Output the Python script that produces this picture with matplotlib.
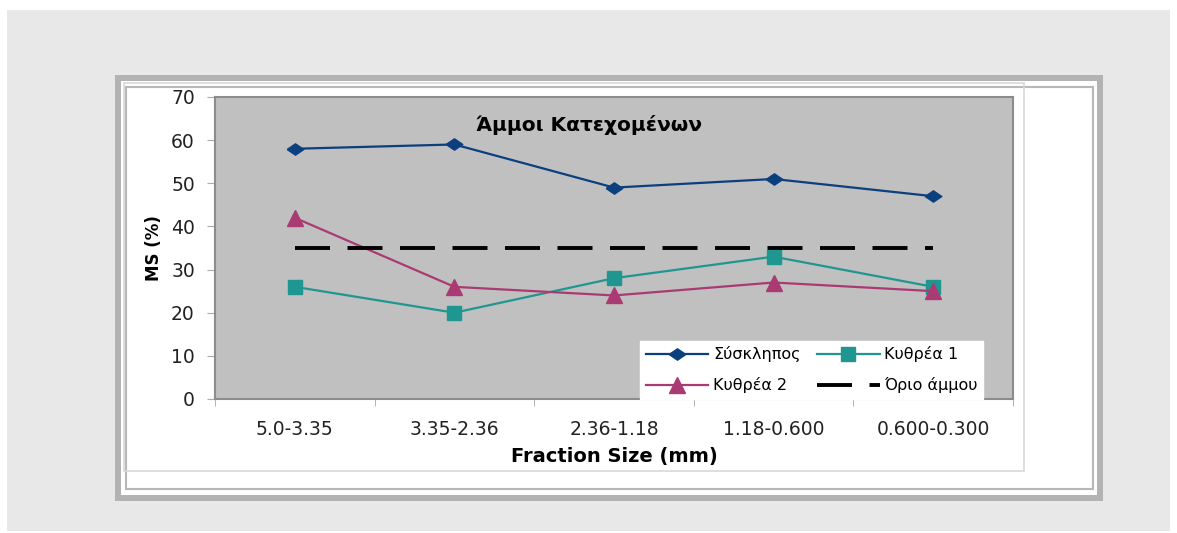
import matplotlib.pyplot as plt
from matplotlib.patches import Rectangle
from matplotlib.lines import Line2D

plt.rcParams['font.family'] = ['DejaVu Sans']

# data
fractions = ['5.0-3.35', '3.35-2.36', '2.36-1.18', '1.18-0.600', '0.600-0.300']
syskliipos = [58, 59, 49, 51, 47]
kythrea1 = [26, 20, 28, 33, 26]
kythrea2 = [42, 26, 24, 27, 25]
orio = [35, 35, 35, 35, 35]

W, H = 1177, 533
fig = plt.figure(figsize=(W / 100, H / 100), dpi=100)
fig.patch.set_facecolor('white')


def px_rect(x0, y0, x1, y1, **kw):
    # rectangle in pixel coords (origin top-left)
    r = Rectangle((x0 / W, 1 - y1 / H), (x1 - x0) / W, (y1 - y0) / H,
                  transform=fig.transFigure, zorder=-5, **kw)
    fig.patches.append(r)


# page background and frames
px_rect(7, 10, 1170, 531, facecolor='#e8e8e8', edgecolor='none')
px_rect(115, 75, 1103, 501, facecolor='#b3b3b4', edgecolor='none')
px_rect(121, 81, 1097, 495, facecolor='white', edgecolor='none')
px_rect(126, 87, 1093, 489, facecolor='white', edgecolor='#b8b8b8', linewidth=1.5)
px_rect(124, 83, 1024, 471, facecolor='none', edgecolor='#d8d8d8', linewidth=1.2)

ax = fig.add_axes([215 / W, 1 - 399 / H, 798 / W, 302 / H])
ax.set_facecolor('#c0c0c0')
for s in ax.spines.values():
    s.set_color('#8c8c8c')
    s.set_linewidth(1.5)

# wide diamond like the original
wide_diamond = [(-1, 0), (0, 0.68), (1, 0), (0, -0.68), (-1, 0)]

x = list(range(len(fractions)))
l1, = ax.plot(x, syskliipos, color='#0b3f7e', linewidth=1.6, marker=wide_diamond,
              markersize=12, label='Σύσκληπος')
l2, = ax.plot(x, kythrea1, color='#1f968f', linewidth=1.6, marker='s', markersize=9.5,
              label='Κυθρέα 1')
l3, = ax.plot(x, kythrea2, color='#aa3a72', linewidth=1.6, marker='^', markersize=11,
              label='Κυθρέα 2')
l4, = ax.plot(x, orio, color='black', linewidth=2.8, dashes=(9, 4.5), label='Όριο άμμου')

ax.set_xlim(-0.5, 4.5)
ax.set_ylim(0, 70)
ax.set_yticks(range(0, 71, 10))
ax.set_xticks(x)
ax.set_xticklabels(fractions)
ax.set_xticks([i - 0.5 for i in range(6)], minor=True)
ax.tick_params(axis='x', which='major', length=0, pad=15, labelsize=13.5, colors='#222222')
ax.tick_params(axis='x', which='minor', length=5, color='#aaaaaa')
ax.tick_params(axis='y', length=6, color='#aaaaaa', labelsize=13.5, pad=8.5,
               labelcolor='#222222')

ax.set_xlabel('Fraction Size (mm)', fontsize=14, fontweight='bold', labelpad=6)
ax.set_ylabel('MS (%)', fontsize=12, fontweight='bold', labelpad=6)
ax.text(0.469, 0.907, 'Άμμοι Κατεχομένων', transform=ax.transAxes, ha='center',
        va='center', fontsize=14.5, fontweight='bold')

leg = ax.legend([l1, l3, l2, l4], ['Σύσκληπος', 'Κυθρέα 2', 'Κυθρέα 1', 'Όριο άμμου'],
                loc='lower left', bbox_to_anchor=(0.533, 0.0, 0.43, 0.222), mode='expand',
                ncol=2, fontsize=11.5, frameon=True, fancybox=False, handlelength=3.9,
                borderaxespad=0, columnspacing=0.5, handletextpad=0.3, labelspacing=0.95,
                borderpad=0.35)
leg.get_frame().set_facecolor('white')
leg.get_frame().set_edgecolor('white')
leg.get_frame().set_alpha(1)

fig.savefig('out.png', dpi=100)
